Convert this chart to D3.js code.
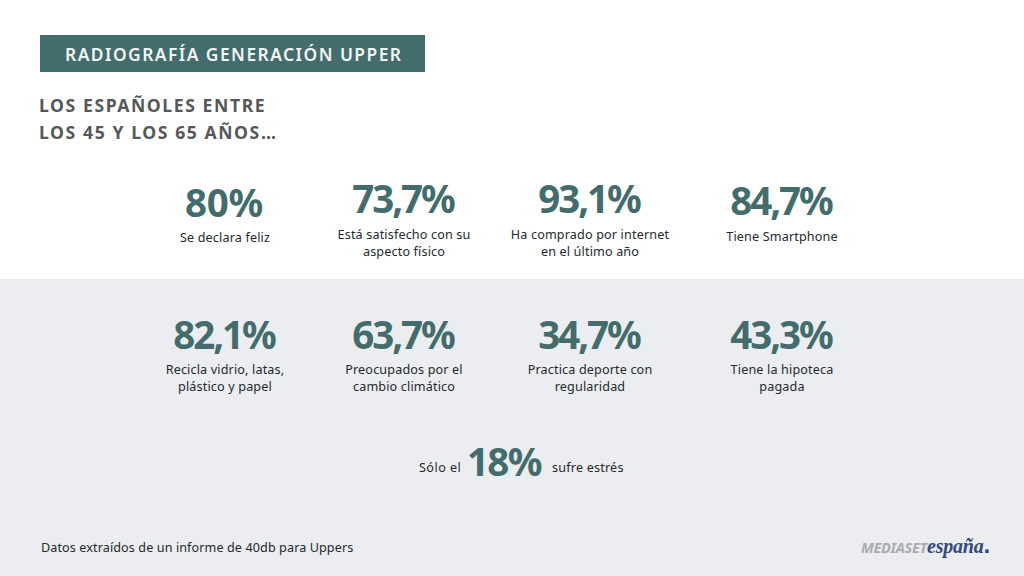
<!DOCTYPE html>
<html><head><meta charset="utf-8">
<script src="https://cdnjs.cloudflare.com/ajax/libs/d3/7.8.5/d3.min.js"></script>
<style>html,body{margin:0;padding:0;background:#fff}svg{display:block}text{font-family:"Noto Sans",sans-serif}</style>
</head><body><div id="c"></div>
<script>
const title = "RADIOGRAFÍA GENERACIÓN UPPER";
const subtitleLines = ["LOS ESPAÑOLES ENTRE", "LOS 45 Y LOS 65 AÑOS…"];
const topValues = ["80%", "73,7%", "93,1%", "84,7%"];
const topLabels = [["Se declara feliz"], ["Está satisfecho con su", "aspecto físico"], ["Ha comprado por internet", "en el último año"], ["Tiene Smartphone"]];
const bottomValues = ["82,1%", "63,7%", "34,7%", "43,3%"];
const bottomLabels = [["Recicla vidrio, latas,", "plástico y papel"], ["Preocupados por el", "cambio climático"], ["Practica deporte con", "regularidad"], ["Tiene la hipoteca", "pagada"]];
const footnote = "Datos extraídos de un informe de 40db para Uppers";

const teal = "#436c6c", dark = "#222a2c", grey = "#55585a";
const svg = d3.select("#c").append("svg").attr("width", 1024).attr("height", 576);
const col = d3.scaleOrdinal().domain([0, 1, 2, 3]).range([225, 404, 590, 782]);

svg.append("rect").attr("x", 0).attr("y", 279).attr("width", 1024).attr("height", 297).attr("fill", "#ecedf0");
svg.append("rect").attr("x", 40).attr("y", 35).attr("width", 385).attr("height", 37).attr("fill", teal);
svg.append("text").attr("x", 65).attr("y", 61).attr("fill", "#f2f5f4")
  .attr("font-size", 17.4).attr("font-weight", 600).attr("letter-spacing", 1.47).text(title);
svg.selectAll("text.sub").data(subtitleLines).join("text").attr("class", "sub")
  .attr("x", 39).attr("y", (d, i) => 112 + i * 27).attr("fill", grey)
  .attr("font-size", 17.6).attr("font-weight", 700).attr("letter-spacing", 1.58).text(d => d);

function row(values, labels, numY, labY, cls) {
  svg.selectAll("text.v" + cls).data(values).join("text").attr("class", "v" + cls)
    .attr("x", (d, i) => col(i) - 1).attr("y", (d, i) => numY[i]).attr("text-anchor", "middle")
    .attr("fill", teal).attr("font-size", 38.5)
    .attr("font-weight", 700).attr("letter-spacing", d => d.includes(",") ? -2.1 : -0.3).text(d => d);
  labels.forEach((lines, i) => {
    svg.selectAll("text.l" + cls + i).data(lines).join("text").attr("class", "l" + cls + i)
      .attr("x", col(i)).attr("y", (d, j) => labY[i] + j * 16.5).attr("text-anchor", "middle")
      .attr("fill", dark).attr("font-size", 12.6).attr("letter-spacing", 0.15).text(d => d);
  });
}
row(topValues, topLabels, [217, 213, 213, 215], [242, 239, 239, 241], "t");
row(bottomValues, bottomLabels, [349, 349, 349, 349], [374, 374, 374, 374], "b");

svg.append("text").attr("x", 419).attr("y", 472).attr("fill", dark).attr("font-size", 12.6).attr("letter-spacing", 0.45).text("Sólo el");
svg.append("text").attr("x", 467).attr("y", 476).attr("fill", teal).attr("font-size", 38.5).attr("font-weight", 700).attr("letter-spacing", -1.7).text("18%");
svg.append("text").attr("x", 552).attr("y", 472).attr("fill", dark).attr("font-size", 12.6).attr("letter-spacing", 0.2).text("sufre estrés");
svg.append("text").attr("x", 41).attr("y", 552).attr("fill", dark).attr("font-size", 12.6).attr("letter-spacing", 0.1).text(footnote);

const logo = svg.append("text").attr("x", 861).attr("y", 553);
logo.append("tspan").attr("fill", "#a9abb0").attr("font-size", 14.5).attr("font-weight", 700).attr("font-style", "italic").attr("letter-spacing", -0.3).text("MEDIASET");
logo.append("tspan").attr("fill", "#2f4a7c").attr("font-size", 20).attr("font-weight", 700).attr("font-style", "italic").attr("style", "font-family:'Liberation Serif',serif").attr("letter-spacing", -0.2).text("españa");
logo.append("tspan").attr("fill", "#2f4a7c").attr("font-size", 24).attr("font-weight", 700).attr("style", "font-family:'Liberation Sans',sans-serif").text(".");
</script></body></html>
